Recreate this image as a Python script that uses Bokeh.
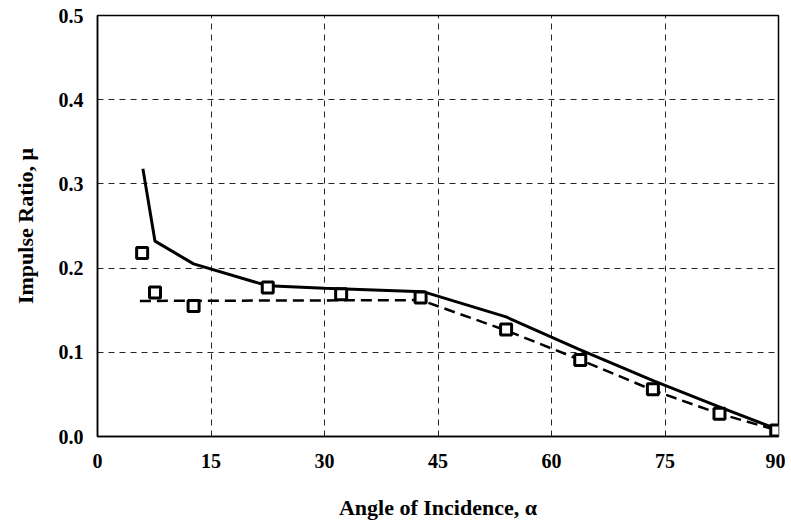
from bokeh.plotting import figure
from bokeh.models import FixedTicker, PrintfTickFormatter
from bokeh.embed import file_html
from bokeh.resources import INLINE

# Data
solid_angle = [6.0, 7.6, 12.7, 22.5, 30.0, 43.0, 54.0, 63.5, 73.5, 82.5, 90.0]
solid_mu = [0.318, 0.232, 0.205, 0.179, 0.176, 0.172, 0.142, 0.104, 0.066, 0.034, 0.008]

dashed_angle = [5.6, 42.7, 54.0, 63.8, 73.4, 82.2, 90.0]
dashed_mu = [0.161, 0.162, 0.126, 0.091, 0.055, 0.027, 0.007]

obs_angle = [5.9, 7.6, 12.7, 22.5, 32.2, 42.7, 54.0, 63.8, 73.4, 82.2, 89.7]
obs_mu = [0.218, 0.171, 0.155, 0.177, 0.169, 0.165, 0.127, 0.091, 0.056, 0.027, 0.007]

x_ticks = [0, 15, 30, 45, 60, 75, 90]
y_ticks = [0.0, 0.1, 0.2, 0.3, 0.4, 0.5]

FONT = "Liberation Serif"

p = figure(width=785, height=523, x_range=(0, 90), y_range=(0, 0.5),
           output_backend="svg", toolbar_location=None,
           min_border_left=97, min_border_right=7, min_border_top=15, min_border_bottom=87)

p.outline_line_color = "black"
p.outline_line_width = 1.5
p.background_fill_color = "white"
p.border_fill_color = "white"

for g in (p.xgrid, p.ygrid):
    g.grid_line_color = "black"
    g.grid_line_dash = "6 5"
    g.grid_line_width = 1
    g.grid_line_alpha = 0.85

p.xaxis.ticker = FixedTicker(ticks=x_ticks)
p.yaxis.ticker = FixedTicker(ticks=y_ticks)
p.yaxis.formatter = PrintfTickFormatter(format="%.1f")

for ax in (p.xaxis, p.yaxis):
    ax.axis_line_color = "black"
    ax.axis_line_width = 1.5
    ax.major_tick_in = 0
    ax.major_tick_out = 0
    ax.minor_tick_in = 0
    ax.minor_tick_out = 0
    ax.major_label_text_font = FONT
    ax.major_label_text_font_style = "bold"
    ax.major_label_text_font_size = "20px"
    ax.major_label_text_color = "black"
    ax.axis_label_text_font = FONT
    ax.axis_label_text_font_style = "bold"
    ax.axis_label_text_font_size = "22px"
    ax.axis_label_text_color = "black"

p.xaxis.axis_label = "Angle of Incidence, α"
p.yaxis.axis_label = "Impulse Ratio, μ"
p.xaxis.major_label_standoff = 17
p.xaxis.axis_label_standoff = 24
p.yaxis.major_label_standoff = 14
p.yaxis.axis_label_standoff = 18

p.line(solid_angle, solid_mu, line_color="black", line_width=3)
p.line(dashed_angle, dashed_mu, line_color="black", line_width=2.5, line_dash="11 6")
p.scatter(obs_angle, obs_mu, marker="square", size=11, line_color="black",
          line_width=3, fill_color="white")

open("out.html", "w").write(file_html(p, INLINE))
